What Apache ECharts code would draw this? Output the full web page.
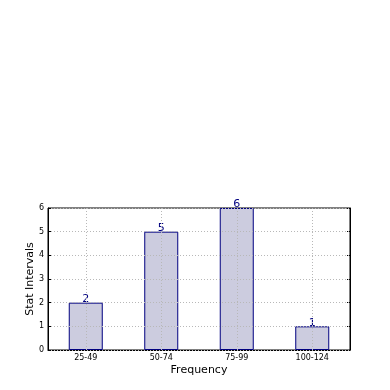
<!DOCTYPE html>
<html>
<head>
<meta charset="utf-8">
<title>Stat Intervals</title>
<script src="https://cdn.jsdelivr.net/npm/echarts@6/dist/echarts.min.js"></script>
<style>
  * { margin: 0; padding: 0; }
  body { background: #fff; }
  #main { width: 390px; height: 390px; }
</style>
</head>
<body>
<div id="main"></div>
<script type="text/javascript">
var categories = ['25-49', '50-74', '75-99', '100-124'];
var counts = [2, 5, 6, 1];
var yTicks = [0, 1, 2, 3, 4, 5, 6];

var chart = echarts.init(document.getElementById('main'));

var dotted = { color: '#b8b8b8', type: [1, 2], width: 1 };

var option = {
    animation: false,
    textStyle: { fontFamily: 'DejaVu Sans' },
    grid: {
        left: 48, right: 40, top: 208, bottom: 40,
        show: true, borderColor: '#000', borderWidth: 1, backgroundColor: 'transparent'
    },
    xAxis: {
        type: 'category',
        data: categories,
        name: 'Frequency',
        nameLocation: 'middle',
        nameGap: 15,
        nameTextStyle: { fontSize: 11, color: '#000' },
        axisLine: { lineStyle: { color: '#000' } },
        axisTick: { show: true, inside: true, alignWithLabel: true, length: 3, lineStyle: { color: '#000' } },
        axisLabel: { fontSize: 8, color: '#000', margin: 4 },
        splitLine: { show: false }
    },
    yAxis: [{
        type: 'value',
        min: yTicks[0],
        max: yTicks[yTicks.length - 1],
        interval: 1,
        z: 5,
        name: 'Stat Intervals',
        nameLocation: 'middle',
        nameGap: 12,
        nameMoveOverlap: false,
        nameTextStyle: { fontSize: 11, color: '#000' },
        axisLine: { show: true, lineStyle: { color: '#000' } },
        axisTick: { show: true, inside: true, length: 3, lineStyle: { color: '#000' } },
        axisLabel: { fontSize: 8, color: '#000', margin: 4 },
        splitLine: { show: true, lineStyle: dotted }
    }, {
        type: 'value',
        position: 'right',
        min: yTicks[0],
        max: yTicks[yTicks.length - 1],
        interval: 1,
        axisLine: { show: true, lineStyle: { color: '#000' } },
        axisTick: { show: true, inside: true, length: 3, lineStyle: { color: '#000' } },
        axisLabel: { show: false },
        splitLine: { show: false }
    }],
    series: [{
        type: 'bar',
        data: counts,
        barWidth: 34,
        itemStyle: { color: '#ccccdf', borderColor: '#000080', borderWidth: 1 },
        label: {
            show: true,
            position: 'top',
            distance: -2,
            fontSize: 11,
            color: '#000080'
        },
        markLine: {
            silent: true,
            symbol: 'none',
            z: 5,
            label: { show: false },
            lineStyle: dotted,
            data: categories.map(function (c) { return { xAxis: c }; })
        }
    }]
};

chart.setOption(option);
</script>
</body>
</html>
